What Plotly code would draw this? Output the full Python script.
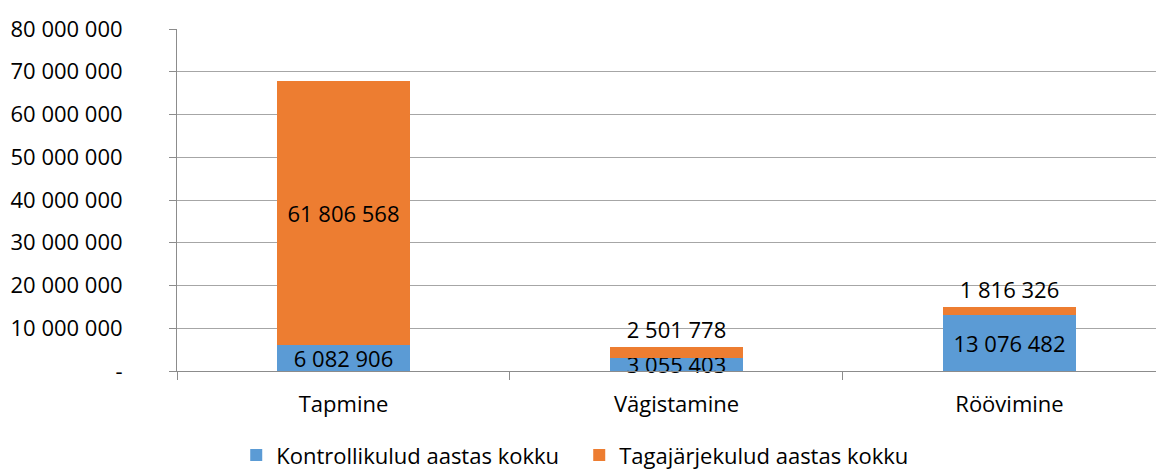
import plotly.graph_objects as go

categories = ["Tapmine", "Vägistamine", "Röövimine"]
kontroll = [6082906, 3055403, 13076482]
tagajarg = [61806568, 2501778, 1816326]
series_names = ["Kontrollikulud aastas kokku", "Tagajärjekulud aastas kokku"]
y_tickvals = [0, 10000000, 20000000, 30000000, 40000000, 50000000, 60000000, 70000000, 80000000]
y_ticktext = ["-", "10 000 000", "20 000 000", "30 000 000", "40 000 000",
              "50 000 000", "60 000 000", "70 000 000", "80 000 000"]
tag_textpos = ["inside", "outside", "outside"]

FONT = "Open Sans"
FS = 22
BLUE = "#5B9BD5"
ORANGE = "#ED7D31"

fig = go.Figure()
fig.add_trace(go.Bar(
    x=categories, y=kontroll, name=series_names[0],
    marker=dict(color=BLUE, line=dict(width=0)),
    texttemplate="%{y:,d}", textposition="inside", insidetextanchor="middle",
    constraintext="none", cliponaxis=False,
    textfont=dict(family=FONT, size=FS, color="black"),
))
fig.add_trace(go.Bar(
    x=categories, y=tagajarg, name=series_names[1],
    marker=dict(color=ORANGE, line=dict(width=0)),
    texttemplate="%{y:,d}", textposition=tag_textpos, insidetextanchor="middle",
    constraintext="none", cliponaxis=False,
    textfont=dict(family=FONT, size=FS, color="black"),
))

fig.update_layout(
    barmode="stack", bargap=0.6,
    width=1156, height=471,
    margin=dict(l=177, r=0, t=29, b=100, autoexpand=False),
    paper_bgcolor="white", plot_bgcolor="white",
    separators=". ",
    font=dict(family=FONT, size=FS, color="black"),
    showlegend=True,
    legend=dict(orientation="h", x=0.0605, xanchor="left", y=-0.185, yanchor="top",
                font=dict(family=FONT, size=FS, color="black"),
                entrywidth=298, entrywidthmode="pixels",
                itemsizing="constant", traceorder="normal"),
)
fig.update_xaxes(
    range=[-0.5, 2.44], tickson="boundaries", ticks="outside", ticklen=8,
    tickcolor="#8c8c8c", showline=True, linecolor="#8c8c8c", linewidth=1,
    showgrid=False, ticklabelstandoff=14, automargin=False,
    tickfont=dict(family=FONT, size=FS, color="black"),
)
fig.update_yaxes(
    range=[0, 80000000], tickvals=y_tickvals, ticktext=y_ticktext,
    ticks="outside", ticklen=7, tickcolor="#8c8c8c",
    showline=True, linecolor="#8c8c8c", linewidth=1,
    showgrid=True, gridcolor="#a6a6a6", gridwidth=1, zeroline=False,
    ticklabelstandoff=42, automargin=False,
    tickfont=dict(family=FONT, size=FS, color="black"),
)

fig.write_html(
    "out.html",
    config={"displayModeBar": False},
    post_script="document.body.style.margin='0';document.body.style.overflow='hidden';",
)
